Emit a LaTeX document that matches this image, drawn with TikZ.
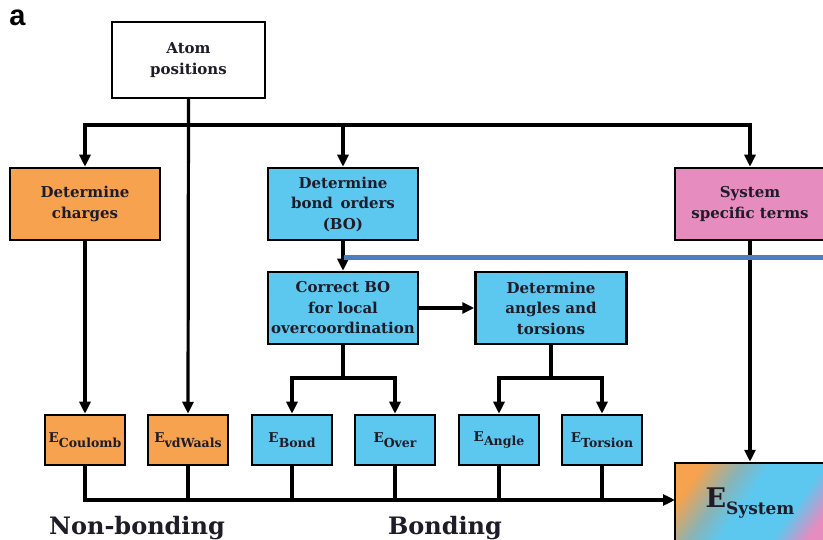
\documentclass[tikz,border=0pt]{standalone}
\usepackage{fontspec}
\setmainfont{DejaVu Serif}
\newfontfamily\labelfont{Liberation Sans}
\usetikzlibrary{arrows.meta}
\definecolor{cor}{RGB}{246,162,78}
\definecolor{cbl}{RGB}{92,200,240}
\definecolor{cpk}{RGB}{230,140,190}
\definecolor{ctx}{RGB}{30,28,40}
\definecolor{cline}{RGB}{74,126,190}
\pgfdeclarehorizontalshading{esysshade}{100bp}{color(0bp)=(cor); color(25bp)=(cor); color(38bp)=(cor!30!cbl!85!gray); color(48bp)=(cbl); color(66bp)=(cbl); color(78bp)=(cpk); color(100bp)=(cpk)}
\begin{document}
\begin{tikzpicture}[x=1pt,y=-1pt,
  box/.style={draw=black, line width=2.5pt, align=center, text=ctx,
    font=\bfseries\fontsize{15}{20.5}\selectfont, inner sep=0pt},
  bigbox/.style={box, minimum width=150pt, minimum height=72pt},
  ebox/.style={box, minimum width=80pt, minimum height=50pt,
    font=\bfseries\fontsize{13.5}{16}\selectfont},
  org/.style={fill=cor}, blu/.style={fill=cbl}, pnk/.style={fill=cpk},
  conn/.style={line width=3.2pt, black},
  arr/.style={conn, -{Triangle[length=12pt,width=11pt]}},
  grp/.style={text=ctx, font=\bfseries\fontsize{24}{26}\selectfont}
]
\clip (0,0) rectangle (823,540);
\fill[white] (0,0) rectangle (823,540);
\newcommand{\Esub}[1]{E\raisebox{-4.5pt}{\fontsize{12.5}{13}\selectfont #1}}

\node[font=\labelfont\bfseries\fontsize{29}{30}\selectfont] (lbl) at (17.5,18) {a};

\node[bigbox, fill=white, minimum width=153pt, minimum height=76pt] (atom) at (188.5,60) {Atom\\positions};
\node[bigbox, org] (charges) at (85,204) {Determine\\charges};
\node[bigbox, blu] (bo) at (343,204) {Determine\\bond\, orders\\(BO)};
\node[bigbox, pnk, minimum width=150pt] (sys) at (750,204) {System\\specific terms};
\node[bigbox, blu] (cbo) at (343,308) {Correct BO\\for local\\overcoordination};
\node[bigbox, blu, minimum width=151pt] (ang) at (551,308) {Determine\\angles and\\torsions};

\node[ebox, org] (ecoul) at (85,440) {\Esub{Coulomb}};
\node[ebox, org] (evdw) at (188,440) {\Esub{vdWaals}};
\node[ebox, blu] (ebond) at (292,440) {\Esub{Bond}};
\node[ebox, blu] (eover) at (395,440) {\Esub{Over}};
\node[ebox, blu] (eangle) at (499,440) {\Esub{Angle}};
\node[ebox, blu] (etors) at (602,440) {\Esub{Torsion}};

\node[box, shading=esysshade, shading angle=-35, minimum width=150pt, minimum height=80pt] (esys) at (750,503)
  {\fontsize{27}{28}\selectfont E\raisebox{-7pt}{\fontsize{17}{18}\selectfont System}};

\node[grp] (nb) at (137,528) {Non-bonding};
\node[grp] (bd) at (445,528) {Bonding};

% top bus
\coordinate (bus) at (188,125);
\draw[arr] (atom.south) -- (evdw.north);
\draw[arr] (bus) -| (charges.north);
\draw[arr] (bus) -| (bo.north);
\draw[arr] (bus) -| (sys.north);

\draw[arr] (charges) -- (ecoul);
\draw[arr] (bo) -- (cbo);
\draw[arr] (cbo) -- (ang);
\draw[arr] (sys) -- (esys);

\coordinate (s1) at (343,378);
\coordinate (s2) at (551,378);
\draw[conn] (cbo.south) -- (s1);
\draw[arr] (s1) -| (ebond.north);
\draw[arr] (s1) -| (eover.north);
\draw[conn] (ang.south) -- (s2);
\draw[arr] (s2) -| (eangle.north);
\draw[arr] (s2) -| (etors.north);

% bottom bus
\coordinate (bb) at (675,500);
\draw[arr] (ecoul.south) |- (bb);
\foreach \n in {evdw,ebond,eover,eangle,etors}
  \draw[conn] (\n.south) -- (\n.south |- bb);

% blue line
\coordinate (bl1) at (344,258);
\coordinate (bl2) at (830,258);
\draw[cline, line width=5pt] (bl1) -- (bl2);
\end{tikzpicture}
\end{document}
